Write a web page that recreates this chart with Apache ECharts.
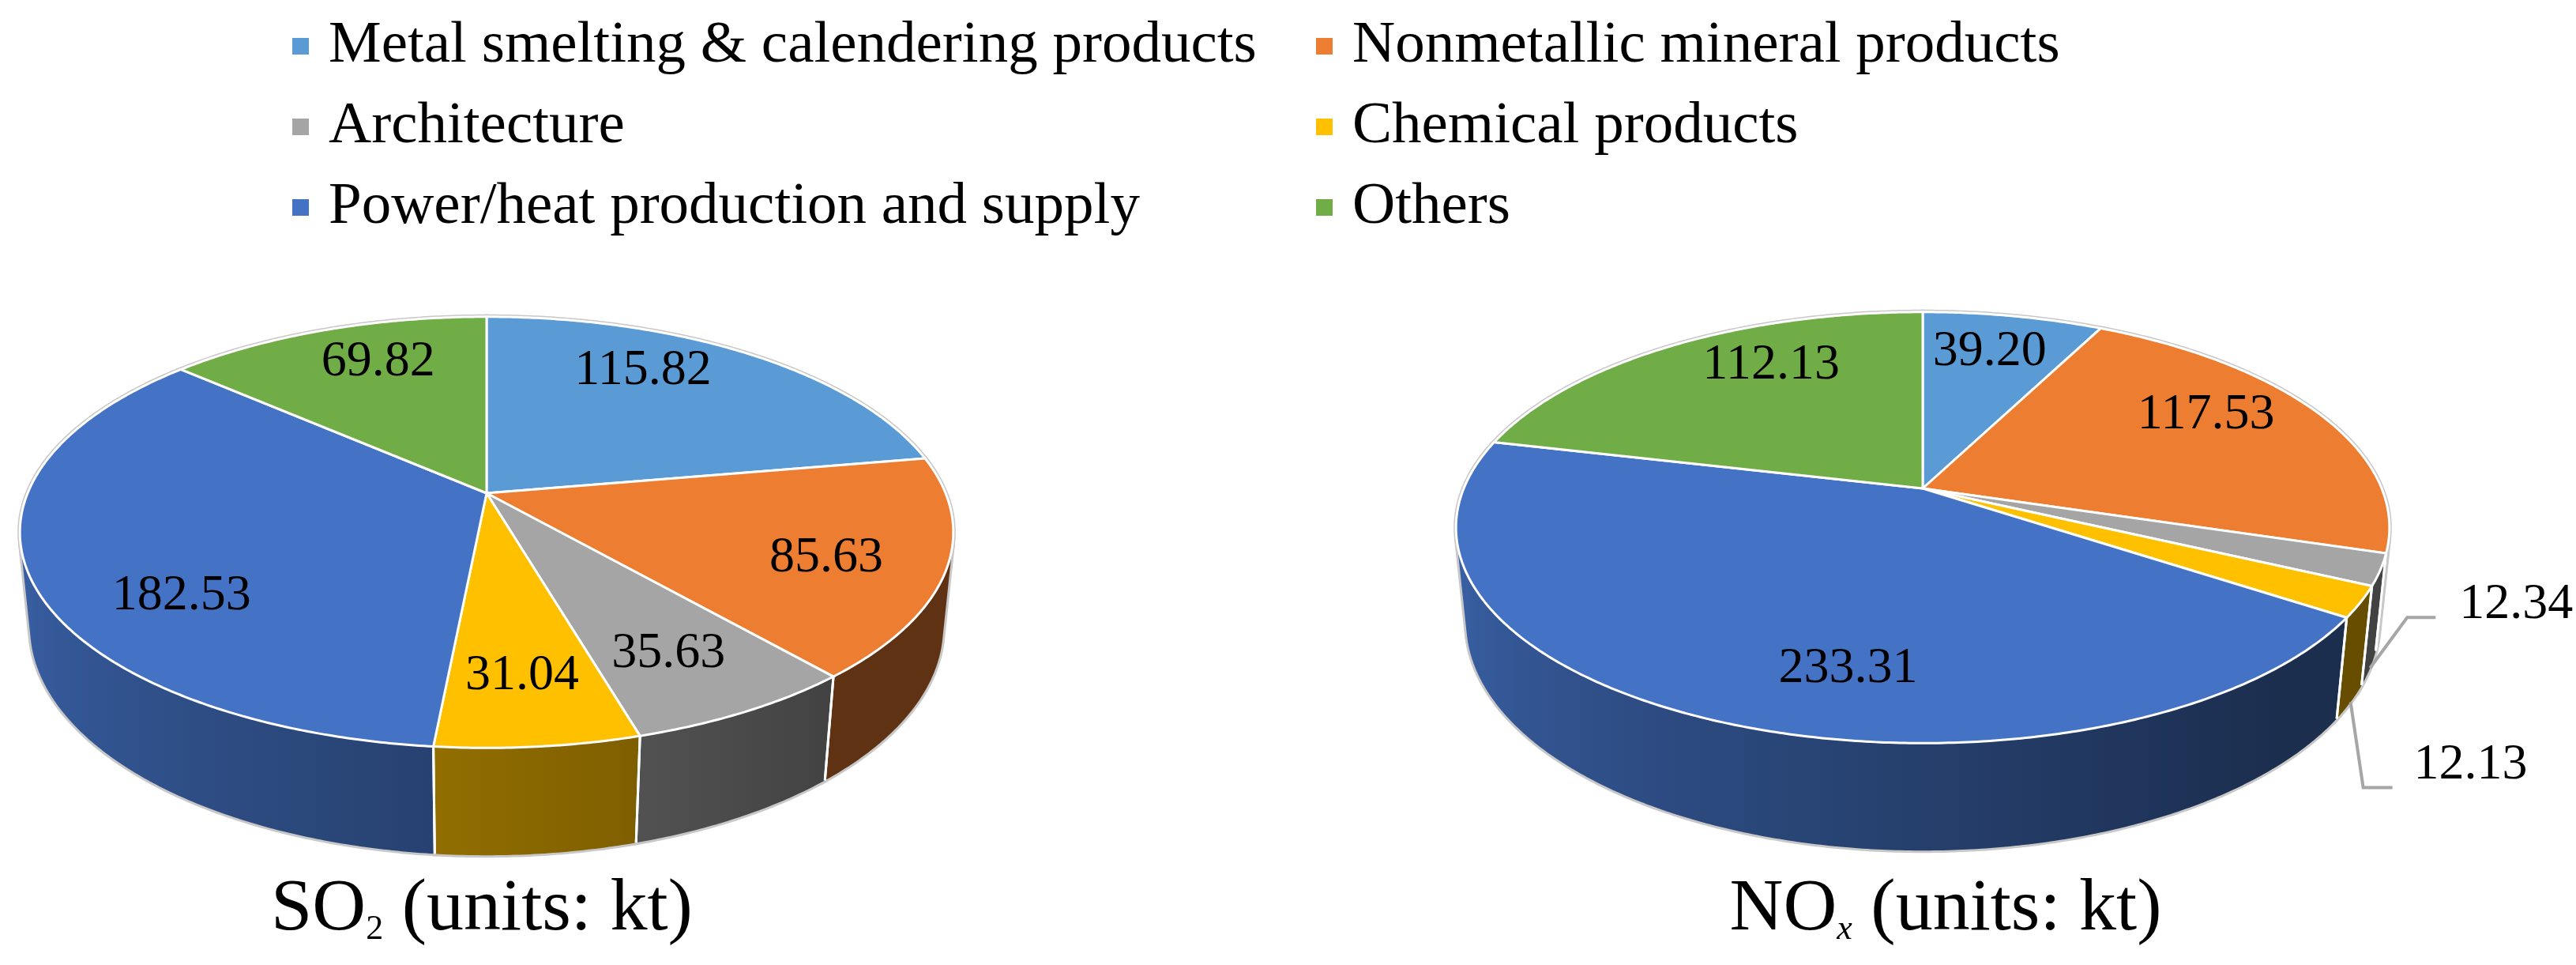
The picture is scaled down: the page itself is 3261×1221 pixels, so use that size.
<!DOCTYPE html>
<html>
<head>
<meta charset="utf-8">
<script src="https://cdn.jsdelivr.net/npm/echarts@6/dist/echarts.min.js"></script>
<style>
  html, body { margin: 0; padding: 0; background: #fff; }
  #chart { width: 3261px; height: 1221px; }
</style>
</head>
<body>
<div id="chart"></div>
<script>
// sectors, in the order the slices run clockwise from 12 o'clock
const sectors = [
  'Metal smelting & calendering products',
  'Nonmetallic mineral products',
  'Architecture',
  'Chemical products',
  'Power/heat production and supply',
  'Others'
];
const so2Values = [115.82, 85.63, 35.63, 31.04, 182.53, 69.82];
const noxValues = [39.20, 117.53, 12.34, 12.13, 233.31, 112.13];
const colors = ['#5B9BD5', '#ED7D31', '#A5A5A5', '#FFC000', '#4472C4', '#70AD47'];

const legendLeft = [sectors[0], sectors[2], sectors[4]];
const legendRight = [sectors[1], sectors[3], sectors[5]];

const FONT = '"Liberation Serif", "Times New Roman", serif';

// two pies, same camera
const pies = [
  { values: so2Values, cx: 616, cy: 624 },
  { values: noxValues, cx: 2434, cy: 618 }
];

// perspective camera: radius on screen, distance (in radii), tilt, thickness
const R = 581;
const DIST = 4.907;
const TILT = 27 * Math.PI / 180;
const THICK = 0.234;
const F = R * DIST;
const cosT = Math.cos(TILT), sinT = Math.sin(TILT);
// side wall visible where cos(a) < -1/(DIST*cosT)
const A_L = Math.acos(-1 / (DIST * cosT)) * 180 / Math.PI;
const A_R = 360 - A_L;

function proj(pie, a, r, y) {
  const rad = a * Math.PI / 180;
  const X = r * Math.sin(rad), Z = -r * Math.cos(rad);
  const d = DIST - Z * cosT - y * sinT;
  return [pie.cx + F * X / d, pie.cy + F * (-y * cosT + Z * sinT) / d];
}

function arc(pie, from, to, y) {
  const n = Math.max(2, Math.ceil(Math.abs(to - from) / 0.5));
  const pts = [];
  for (let i = 0; i <= n; i++) pts.push(proj(pie, from + (to - from) * i / n, 1, y));
  return pts;
}

function shade(hex, f) {
  const n = parseInt(hex.slice(1), 16);
  const r = Math.round(((n >> 16) & 255) * f);
  const g = Math.round(((n >> 8) & 255) * f);
  const b = Math.round((n & 255) * f);
  return 'rgb(' + r + ',' + g + ',' + b + ')';
}

// side lighting: darker on the right, lighter to the left
function sideFactor(a) {
  const t = Math.min(1, Math.max(0, (a - 140) / 120));
  return 0.4 + 0.46 * t;
}

// label angle: mid angle taken in a squashed (screen-like) angle space
const SQ = 0.65;
function toG(a) {
  const r = a * Math.PI / 180;
  let g = Math.atan2(Math.sin(r), SQ * Math.cos(r)) * 180 / Math.PI;
  while (g - a > 180) g -= 360;
  while (a - g > 180) g += 360;
  return g;
}
function fromG(g) {
  const r = g * Math.PI / 180;
  let a = Math.atan2(SQ * Math.sin(r), Math.cos(r)) * 180 / Math.PI;
  while (a - g > 180) a -= 360;
  while (g - a > 180) a += 360;
  return a;
}

function renderSlice(params, api) {
  const pie = pies[api.value(0)];
  const s = params.seriesIndex;
  const vals = pie.values;
  const total = vals.reduce((p, v) => p + v, 0);
  let before = 0;
  for (let i = 0; i < s; i++) before += vals[i];
  const value = api.value(1);
  const a0 = before / total * 360;
  const a1 = (before + value) / total * 360;
  const base = colors[s];
  const children = [];

  const topPts = [proj(pie, 0, 0, 0)].concat(arc(pie, a0, a1, 0));
  children.push({ type: 'polygon', z2: 0, shape: { points: topPts },
    style: { fill: null, stroke: '#C8C8C8', lineWidth: 6 } });

  const s0 = Math.max(a0, A_L), s1 = Math.min(a1, A_R);
  if (s1 > s0) {
    const sidePts = arc(pie, s0, s1, 0).concat(arc(pie, s1, s0, -THICK));
    children.push({ type: 'polygon', z2: 0, shape: { points: sidePts },
      style: { fill: null, stroke: '#C8C8C8', lineWidth: 6 } });
    let xmin = Infinity, xmax = -Infinity;
    sidePts.forEach(p => { xmin = Math.min(xmin, p[0]); xmax = Math.max(xmax, p[0]); });
    const stops = [];
    for (let i = 0; i <= 10; i++) {
      const a = s0 + (s1 - s0) * i / 10;
      const x = proj(pie, a, 1, 0)[0];
      const off = Math.min(1, Math.max(0, (x - xmin) / Math.max(1, xmax - xmin)));
      stops.push({ offset: off, color: shade(base, sideFactor(a)) });
    }
    stops.sort((p, q) => p.offset - q.offset);
    children.push({ type: 'polygon', z2: 1, shape: { points: sidePts },
      style: { fill: { type: 'linear', x: 0, y: 0, x2: 1, y2: 0, colorStops: stops, global: false } } });
    [a0, a1].forEach(a => {
      if (a > A_L && a < A_R) {
        const p = proj(pie, a, 1, 0), q = proj(pie, a, 1, -THICK);
        children.push({ type: 'line', z2: 1.5, shape: { x1: p[0], y1: p[1], x2: q[0], y2: q[1] },
          style: { stroke: '#fff', lineWidth: 3 } });
      }
    });
  }

  children.push({ type: 'polygon', z2: 2, shape: { points: topPts },
    style: { fill: base, stroke: '#fff', lineWidth: 3 } });

  const text = value.toFixed(2);
  const frac = value / total;
  if (frac >= 0.04) {
    const la = fromG((toG(a0) + toG(a1)) / 2);
    const p = proj(pie, la, 0.76, 0);
    children.push({ type: 'text', z2: 10, style: { text: text, x: p[0], y: p[1],
      fill: '#000', fontSize: 64, fontFamily: FONT, align: 'center', verticalAlign: 'middle' } });
  } else {
    // small slice: label outside with an elbow leader line, alternating up / down
    let k = 0;
    for (let i = 0; i < s; i++) if (vals[i] / total < 0.04) k++;
    const anc = proj(pie, (a0 + a1) / 2, 1, -THICK);
    let elbow, end, tx, ty;
    if (k % 2 === 0) {
      elbow = [anc[0] + 47, anc[1] - 64];
      end = [elbow[0] + 36, elbow[1]];
      tx = end[0] + 30; ty = end[1] - 16;
    } else {
      elbow = [anc[0] + 16, anc[1] + 108];
      end = [elbow[0] + 37, elbow[1]];
      tx = end[0] + 27; ty = end[1] - 28;
    }
    children.push({ type: 'polyline', z2: 9, shape: { points: [anc, elbow, end] },
      style: { fill: null, stroke: '#A6A6A6', lineWidth: 4 } });
    children.push({ type: 'text', z2: 10, style: { text: text, x: tx, y: ty,
      fill: '#000', fontSize: 64, fontFamily: FONT, align: 'left', verticalAlign: 'middle' } });
  }
  return { type: 'group', children: children };
}

const legendBase = {
  orient: 'vertical',
  top: 16,
  icon: 'rect',
  itemWidth: 21,
  itemHeight: 21,
  itemGap: 27,
  selectedMode: false,
  textStyle: { fontSize: 75, lineHeight: 75, fontFamily: FONT, color: '#000', padding: [0, 0, 0, 20] }
};

const titleRich = {
  a: { fontSize: 94, lineHeight: 94, fontFamily: FONT, fill: '#000', verticalAlign: 'bottom' },
  b: { fontSize: 44, lineHeight: 24, fontFamily: FONT, fill: '#000', verticalAlign: 'bottom' },
  c: { fontSize: 44, lineHeight: 24, fontFamily: FONT, fontStyle: 'italic', fill: '#000', verticalAlign: 'bottom' }
};

const chart = echarts.init(document.getElementById('chart'));
chart.setOption({
  backgroundColor: '#fff',
  animation: false,
  legend: [
    Object.assign({}, legendBase, { left: 365, data: legendLeft }),
    Object.assign({}, legendBase, { left: 1661, data: legendRight })
  ],
  graphic: [
    { type: 'text', x: 610, y: 1151, style: { text: '{a|SO}{b|2}{a| (units: kt)}', rich: titleRich,
      align: 'center', verticalAlign: 'middle' } },
    { type: 'text', x: 2463, y: 1151, style: { text: '{a|NO}{c|x}{a| (units: kt)}', rich: titleRich,
      align: 'center', verticalAlign: 'middle' } }
  ],
  series: sectors.map((name, i) => ({
    type: 'custom',
    name: name,
    coordinateSystem: 'none',
    itemStyle: { color: colors[i] },
    renderItem: renderSlice,
    data: [[0, so2Values[i]], [1, noxValues[i]]]
  }))
});
</script>
</body>
</html>
